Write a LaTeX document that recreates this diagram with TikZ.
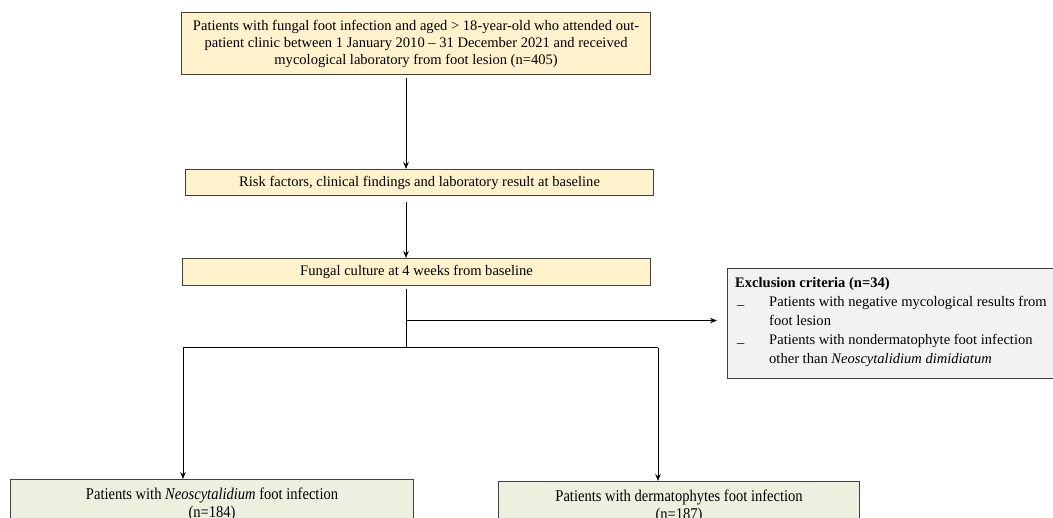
\documentclass[tikz,border=0pt]{standalone}
\usepackage{fontspec}
\setmainfont{Liberation Serif}
\usetikzlibrary{arrows.meta,positioning}

\definecolor{boxyellow}{HTML}{FFF2CC}
\definecolor{boxgreen}{HTML}{EBF1DE}
\definecolor{boxgray}{HTML}{F2F2F2}
\definecolor{boxline}{HTML}{404040}

\begin{document}
\begin{tikzpicture}[
    x=1bp, y=-1bp,
    box/.style={rectangle, draw=boxline, line width=1.1bp, fill=boxyellow, inner sep=0pt, align=center, anchor=north west, font=\fontsize{14.6}{17}\selectfont},
    result/.style={box, fill=boxgreen, font=\fontsize{16.5}{17.5}\selectfont},
    exclude/.style={box, fill=boxgray},
    arrow/.style={-{Stealth[length=7bp,width=5.5bp]}, line width=1bp}
]
\clip (0,0) rectangle (1053,518);
\coordinate (spine) at (406,0);

\node[box, minimum width=469bp, minimum height=62bp] (elig) at (181,12)
    {Patients with fungal foot infection and aged > 18-year-old who attended out-\\
     patient clinic between 1 January 2010 -- 31 December 2021 and received\\
     mycological laboratory from foot lesion (n=405)};
\node[box, minimum width=468bp, minimum height=26bp] (base) at (185,169)
    {Risk factors, clinical findings and laboratory result at baseline};
\node[box, minimum width=468bp, minimum height=27bp] (cult) at (182,258)
    {Fungal culture at 4 weeks from baseline};

% exclusion box, text set separately on the left
\node[exclude, minimum width=330bp, minimum height=110bp] (excl) at (727,268) {};
\node[anchor=north west, inner sep=0pt, align=left, font=\fontsize{14.6}{19}\selectfont]
    (excltext) at ([xshift=8bp, yshift=-6bp]excl.north west)
    {\begin{tabular}{@{\hspace{2bp}}p{32bp}@{}l@{}}
     \multicolumn{2}{@{}l@{}}{\textbf{Exclusion criteria (n=34)}}\\
     \raisebox{-3bp}{--} & Patients with negative mycological results from\\
      & foot lesion\\
     \raisebox{-3bp}{--} & Patients with nondermatophyte foot infection\\
      & other than \textit{Neoscytalidium dimidiatum}
     \end{tabular}};

\node[result, minimum width=403bp, minimum height=50bp] (neo) at (10,479)
    {\scalebox{0.885}[1]{Patients with \textit{Neoscytalidium} foot infection}\\
     \scalebox{0.885}[1]{(n=184)}};
\node[result, minimum width=361bp, minimum height=50bp] (derm) at (498,481)
    {\scalebox{0.885}[1]{Patients with dermatophytes foot infection}\\
     \scalebox{0.885}[1]{(n=187)}};

\coordinate (split) at (406,348);
\coordinate (lefttop) at (183,348);
\coordinate (righttop) at (658,348);
\coordinate (exclin) at ([yshift=3bp]excl.west);

\draw[arrow, shorten <=3bp] (elig.south -| spine) -- (base.north -| spine);
\draw[arrow, shorten <=6bp] (base.south -| spine) -- (cult.north -| spine);
\draw[line width=1bp, shorten <=3bp] (cult.south -| spine) -- (split);
\draw[arrow, shorten >=10bp] (spine |- exclin) -- (exclin);
\draw[line width=1bp] (lefttop) -- (righttop);
\draw[arrow] (lefttop) -- (lefttop |- neo.north);
\draw[arrow] (righttop) -- (righttop |- derm.north);
\end{tikzpicture}
\end{document}
